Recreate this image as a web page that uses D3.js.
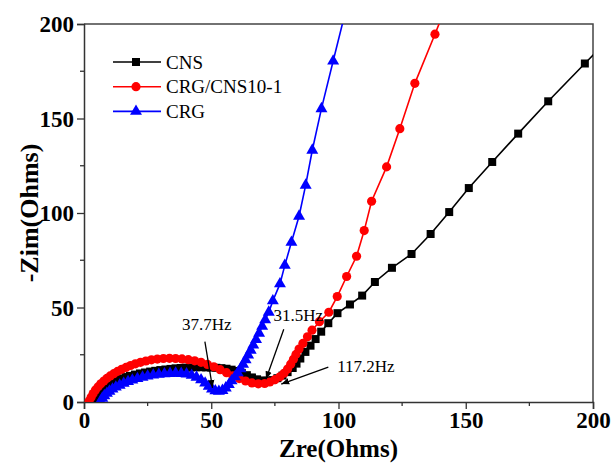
<!DOCTYPE html>
<html>
<head>
<meta charset="utf-8">
<script src="https://cdn.jsdelivr.net/npm/d3@7"></script>
<style>
  body { margin: 0; background: #fff; }
  svg { display: block; }
  text { font-family: "Liberation Serif", "Times New Roman", serif; }
</style>
</head>
<body>
<svg id="chart" width="612" height="468"></svg>
<script>

// Data: [Zre, -Zim] in Ohms
const seriesNames = ['CNS', 'CRG/CNS10-1', 'CRG'];
const seriesColors = ['#000000', '#ff0000', '#0000ff'];

const cnsPoints = [
    [4, 0.5], [5, 2.5], [6, 4], [7, 5.5], [8, 6.8], [9, 8], [10, 9], [11, 10], [12, 10.8],
    [13.5, 11.7], [15, 12.5], [16.5, 13.2], [18, 13.8], [20, 14.5], [22, 15.1], [24, 15.6],
    [26, 16.1], [28, 16.5], [30, 16.9], [32, 17.2], [34, 17.5], [36, 17.8], [38, 18],
    [40, 18.2], [42, 18.3], [44, 18.4], [46, 18.4], [48, 18.3], [50, 18.2], [52, 18.1],
    [54, 17.9], [56, 17.6], [58, 17.1], [60, 16.4], [62, 15.4], [64, 14.2], [66, 13],
    [68, 12], [70, 11.4], [72, 11.2], [74, 11.6], [76, 12.6], [78, 14], [80, 15.8],
    [82, 18], [83.5, 20.3], [85, 23], [87, 26.5], [89, 29.8], [91, 33.3], [93.2, 37.2],
    [96, 41.7], [99.6, 47], [104.5, 51.6], [109.3, 56.3], [114.3, 63.5], [121, 71],
    [128.7, 78.3], [136.2, 88.9], [143.5, 100.5], [151.2, 113.2], [160.4, 127],
    [170.6, 142], [182.4, 159.1], [196.8, 179.1], [214, 203]
];

const crgCnsPoints = [
    [2, 0.5], [2.8, 2.5], [3.6, 4.5], [4.5, 6.3], [5.5, 8], [6.6, 9.6], [7.8, 11.1], [9, 12.5],
    [10.3, 13.8], [11.7, 15], [13.2, 16.2], [14.8, 17.3], [16.5, 18.3], [18.3, 19.3],
    [20.2, 20.2], [22.2, 21], [24.3, 21.7], [26.5, 22.3], [28.8, 22.7], [31.2, 23],
    [33.6, 23.1], [36, 23], [38.5, 22.8], [41, 22.4], [43.5, 21.8], [46, 21], [48.5, 19.9],
    [51, 18.6], [53.5, 17.1], [56, 15.5], [58.5, 13.9], [61, 12.4], [63.5, 11.1], [66, 10.1],
    [68.5, 9.6], [71, 9.8], [73, 10.6], [75, 11.8], [77, 13.3], [78.6, 15.2], [80, 17.4],
    [81.2, 20], [82.3, 22.6], [83.3, 25.2], [84.5, 28], [86, 31], [87.8, 34.5], [89.6, 38],
    [92.5, 42.5], [96.2, 47.5], [99.5, 55.8], [103.2, 66.4], [107.1, 77.1], [110.1, 90.7],
    [113, 106.2], [118.9, 124.4], [124.1, 144.6], [130, 168.6], [137.9, 194.6], [146, 222]
];

const crgPoints = [
    [6.5, 0.5], [7.2, 2], [8, 3.3], [9, 4.6], [10, 5.7], [11.2, 6.8], [12.5, 7.9], [14, 8.9],
    [15.6, 9.9], [17.3, 10.8], [19, 11.6], [21, 12.4], [23, 13.1], [25, 13.7], [27.2, 14.2],
    [29.4, 14.6], [31.6, 14.9], [33.8, 15.1], [36, 15.2], [38.2, 15.1], [40.3, 14.8],
    [42.3, 14.1], [44.2, 13.1], [46, 11.7], [47.6, 10], [49, 8.3], [50.3, 6.9], [51.6, 5.9],
    [53, 5.6], [54.4, 6.1], [55.7, 7.4], [56.9, 9.2], [58, 11.2], [59.3, 13.3], [60.4, 15.4],
    [61.5, 17.6], [62.5, 19.9], [63.5, 22.3], [64.5, 24.8], [65.5, 27.4], [66.5, 30.1],
    [67.6, 33], [68.8, 36.4], [70, 40], [71.2, 43.5], [72.6, 47.5], [74.2, 53.5], [77, 62.5],
    [78.9, 72.3], [81.5, 84.5], [84.5, 98.3], [87.1, 114.7], [89.7, 133.2], [93.3, 155.2],
    [97.9, 180.4], [103, 208]
];

const seriesPoints = [cnsPoints, crgCnsPoints, crgPoints];

const xTicks = [0, 50, 100, 150, 200];
const yTicks = [0, 50, 100, 150, 200];
const xMinor = [25, 75, 125, 175];
const yMinor = [25, 75, 125, 175];

// frequency labels: text, text position [Zre, Zim], arrow start / tip [Zre, Zim]
const notes = [
    {label: '37.7Hz', at: [38.5, 38], from: [47.5, 32], to: [50.5, 7.5]},
    {label: '31.5Hz', at: [74.5, 43], from: [78.5, 38.5], to: [71.5, 12]},
    {label: '117.2Hz', at: [99.5, 16], from: [96, 18.5], to: [77.5, 9.5]}
];

const svg = d3.select('#chart');

const plotLeft = 84, plotRight = 593, plotTop = 24, plotBottom = 402;

const x = d3.scaleLinear().domain([0, 200]).range([plotLeft, plotRight]);
const y = d3.scaleLinear().domain([0, 200]).range([plotBottom, plotTop]);

const defs = svg.append('defs');
defs.append('clipPath')
    .attr('id', 'plot-clip')
    .append('rect')
    .attr('x', plotLeft).attr('y', plotTop)
    .attr('width', plotRight - plotLeft).attr('height', plotBottom - plotTop);

defs.append('marker')
    .attr('id', 'arrow')
    .attr('viewBox', '0 0 10 10')
    .attr('refX', 10).attr('refY', 5)
    .attr('markerWidth', 8).attr('markerHeight', 8)
    .attr('markerUnits', 'userSpaceOnUse')
    .attr('orient', 'auto')
    .append('path')
    .attr('d', 'M0,1 L10,5 L0,9 Z')
    .attr('fill', '#000');

// frame on top and right
svg.append('path')
    .attr('d', 'M' + plotLeft + ',' + plotTop + 'H' + plotRight + 'V' + plotBottom)
    .attr('fill', 'none')
    .attr('stroke', '#444')
    .attr('stroke-width', 1.5);

// axes
const xAxis = svg.append('g')
    .attr('transform', 'translate(0,' + plotBottom + ')')
    .call(d3.axisBottom(x).tickValues(xTicks).tickSize(7).tickPadding(3));
xAxis.append('g').selectAll('line')
    .data(xMinor).join('line')
    .attr('x1', d => x(d)).attr('x2', d => x(d))
    .attr('y1', 0).attr('y2', 4)
    .attr('stroke', '#333').attr('stroke-width', 1.3);

const yAxis = svg.append('g')
    .attr('transform', 'translate(' + plotLeft + ',0)')
    .call(d3.axisLeft(y).tickValues(yTicks).tickSize(7).tickPadding(3));
yAxis.append('g').selectAll('line')
    .data(yMinor).join('line')
    .attr('y1', d => y(d)).attr('y2', d => y(d))
    .attr('x1', 0).attr('x2', -4)
    .attr('stroke', '#333').attr('stroke-width', 1.3);

[xAxis, yAxis].forEach(function (ax) {
    ax.select('.domain').attr('stroke', '#333').attr('stroke-width', 1.5);
    ax.selectAll('.tick line').attr('stroke', '#333').attr('stroke-width', 1.3);
    ax.selectAll('.tick text')
        .attr('fill', '#000')
        .style('font-family', '"Liberation Serif", serif')
        .style('font-size', '23px')
        .style('font-weight', 'bold');
});
yAxis.selectAll('.tick text').attr('dy', '0.34em');

// axis titles
svg.append('text')
    .attr('x', (plotLeft + plotRight) / 2)
    .attr('y', 457)
    .attr('text-anchor', 'middle')
    .style('font-size', '25px')
    .style('font-weight', 'bold')
    .text('Zre(Ohms)');

svg.append('text')
    .attr('transform', 'translate(38,' + (plotTop + plotBottom) / 2 + ') rotate(-90)')
    .attr('text-anchor', 'middle')
    .style('font-size', '26px')
    .style('font-weight', 'bold')
    .text('-Zim(Ohms)');

// series
const symbols = [d3.symbolSquare, d3.symbolCircle, d3.symbolTriangle];
const symbolSizes = [64, 66, 62];

const line = d3.line()
    .x(d => x(d[0]))
    .y(d => y(d[1]));

const plot = svg.append('g').attr('clip-path', 'url(#plot-clip)');

seriesPoints.forEach(function (pts, i) {
    const g = plot.append('g').attr('class', 'series');

    g.append('path')
        .datum(pts)
        .attr('d', line)
        .attr('fill', 'none')
        .attr('stroke', seriesColors[i])
        .attr('stroke-width', 1.6);

    g.selectAll('.pt')
        .data(pts)
        .join('path')
        .attr('class', 'pt')
        .attr('transform', d => 'translate(' + x(d[0]) + ',' + y(d[1]) + ')')
        .attr('d', d3.symbol(symbols[i], symbolSizes[i]))
        .attr('fill', seriesColors[i]);
});

// legend
const legend = svg.append('g').attr('transform', 'translate(113,62)');
const item = legend.selectAll('.legend-item')
    .data(seriesNames)
    .join('g')
    .attr('class', 'legend-item')
    .attr('transform', (d, i) => 'translate(0,' + i * 24.7 + ')');

item.append('line')
    .attr('x1', 0).attr('x2', 48)
    .attr('stroke', (d, i) => seriesColors[i])
    .attr('stroke-width', 1.6);

item.append('path')
    .attr('transform', 'translate(23,0)')
    .attr('d', (d, i) => d3.symbol(symbols[i], symbolSizes[i])())
    .attr('fill', (d, i) => seriesColors[i]);

item.append('text')
    .attr('x', 53)
    .attr('y', 6.5)
    .style('font-size', '19px')
    .text(d => d);

// frequency annotations
const ann = svg.append('g');
notes.forEach(function (n) {
    ann.append('text')
        .attr('x', x(n.at[0]))
        .attr('y', y(n.at[1]))
        .style('font-size', '17px')
        .text(n.label);

    ann.append('line')
        .attr('x1', x(n.from[0])).attr('y1', y(n.from[1]))
        .attr('x2', x(n.to[0])).attr('y2', y(n.to[1]))
        .attr('stroke', '#000')
        .attr('stroke-width', 1.3)
        .attr('marker-end', 'url(#arrow)');
});

</script>
</body>
</html>
